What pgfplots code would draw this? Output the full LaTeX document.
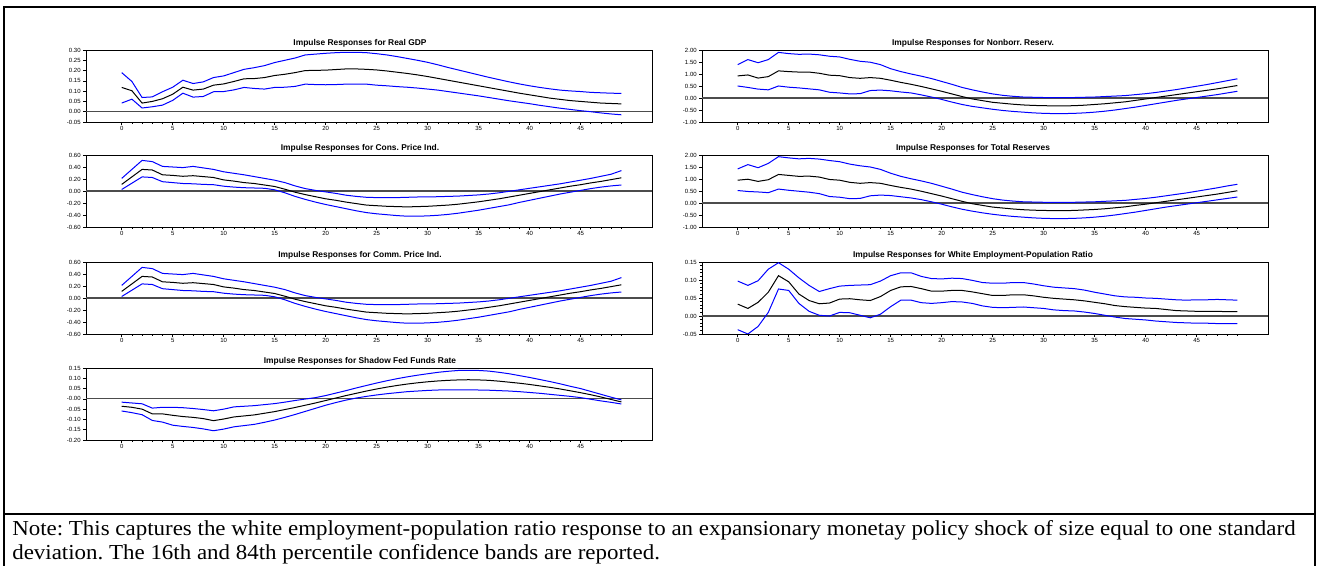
\documentclass[border=0pt]{standalone}
\usepackage{fontspec}
\setmainfont{Liberation Serif}
\newfontfamily\arial{Liberation Sans}
\usepackage{pgfplots}
\usepackage{pgfplotstable}
\pgfplotsset{compat=1.18}

% columns: horizon, response, 16th pct, 84th pct
\pgfplotstableread{
x resp lo hi
0 0.118 0.042 0.190
1 0.102 0.061 0.147
2 0.042 0.018 0.069
3 0.050 0.024 0.072
4 0.063 0.032 0.097
5 0.085 0.055 0.119
6 0.119 0.090 0.153
7 0.105 0.071 0.137
8 0.110 0.074 0.145
9 0.129 0.097 0.166
10 0.135 0.098 0.174
11 0.147 0.106 0.190
12 0.160 0.118 0.206
13 0.161 0.113 0.214
14 0.166 0.110 0.224
15 0.176 0.118 0.239
16 0.182 0.119 0.250
17 0.190 0.123 0.261
18 0.200 0.134 0.276
19 0.201 0.132 0.280
20 0.202 0.131 0.284
21 0.205 0.132 0.287
22 0.208 0.134 0.289
23 0.208 0.134 0.289
24 0.206 0.134 0.287
25 0.203 0.129 0.282
26 0.198 0.126 0.276
27 0.192 0.122 0.268
28 0.186 0.119 0.259
29 0.179 0.115 0.250
30 0.171 0.110 0.240
31 0.162 0.105 0.228
32 0.153 0.098 0.215
33 0.144 0.091 0.203
34 0.135 0.084 0.191
35 0.126 0.077 0.179
36 0.117 0.069 0.167
37 0.108 0.061 0.156
38 0.099 0.053 0.145
39 0.090 0.046 0.135
40 0.082 0.039 0.126
41 0.074 0.031 0.118
42 0.066 0.024 0.111
43 0.060 0.017 0.105
44 0.054 0.011 0.101
45 0.050 0.005 0.098
46 0.046 0.000 0.094
47 0.042 -0.006 0.092
48 0.040 -0.011 0.090
49 0.038 -0.015 0.089
}\gdp

\pgfplotstableread{
x resp lo hi
0 0.92 0.50 1.39
1 0.96 0.44 1.60
2 0.83 0.37 1.47
3 0.89 0.34 1.60
4 1.13 0.50 1.90
5 1.10 0.45 1.85
6 1.08 0.42 1.82
7 1.08 0.38 1.83
8 1.03 0.34 1.80
9 0.95 0.24 1.74
10 0.93 0.21 1.71
11 0.85 0.17 1.61
12 0.82 0.18 1.53
13 0.85 0.31 1.49
14 0.82 0.33 1.39
15 0.74 0.30 1.22
16 0.65 0.25 1.10
17 0.57 0.21 1.00
18 0.48 0.13 0.91
19 0.38 0.04 0.81
20 0.28 -0.06 0.69
21 0.17 -0.17 0.57
22 0.06 -0.27 0.44
23 -0.04 -0.35 0.34
24 -0.11 -0.41 0.25
25 -0.18 -0.47 0.17
26 -0.22 -0.52 0.11
27 -0.26 -0.56 0.07
28 -0.29 -0.59 0.04
29 -0.31 -0.62 0.03
30 -0.32 -0.64 0.02
31 -0.33 -0.65 0.02
32 -0.33 -0.65 0.02
33 -0.32 -0.64 0.02
34 -0.30 -0.62 0.03
35 -0.27 -0.59 0.04
36 -0.24 -0.55 0.06
37 -0.20 -0.50 0.08
38 -0.16 -0.44 0.10
39 -0.10 -0.38 0.14
40 -0.04 -0.31 0.18
41 0.02 -0.24 0.23
42 0.08 -0.17 0.29
43 0.14 -0.10 0.35
44 0.20 -0.04 0.42
45 0.26 0.02 0.49
46 0.32 0.08 0.56
47 0.38 0.14 0.64
48 0.45 0.21 0.72
49 0.52 0.28 0.80
}\nonborr

\pgfplotstableread{
x resp lo hi
0 0.11 0.025 0.21
1 0.235 0.13 0.36
2 0.36 0.235 0.51
3 0.35 0.225 0.49
4 0.27 0.155 0.41
5 0.26 0.14 0.40
6 0.245 0.125 0.39
7 0.255 0.12 0.41
8 0.24 0.11 0.385
9 0.225 0.105 0.36
10 0.185 0.08 0.32
11 0.165 0.065 0.295
12 0.14 0.055 0.27
13 0.125 0.05 0.24
14 0.10 0.045 0.21
15 0.075 0.02 0.18
16 0.03 -0.03 0.14
17 -0.02 -0.09 0.085
18 -0.06 -0.14 0.04
19 -0.095 -0.185 0.01
20 -0.13 -0.225 -0.015
21 -0.155 -0.26 -0.04
22 -0.185 -0.295 -0.07
23 -0.21 -0.33 -0.09
24 -0.235 -0.36 -0.105
25 -0.245 -0.38 -0.11
26 -0.255 -0.395 -0.11
27 -0.26 -0.41 -0.11
28 -0.265 -0.42 -0.105
29 -0.26 -0.42 -0.10
30 -0.255 -0.415 -0.10
31 -0.245 -0.405 -0.095
32 -0.235 -0.39 -0.09
33 -0.22 -0.37 -0.085
34 -0.20 -0.345 -0.075
35 -0.18 -0.32 -0.065
36 -0.155 -0.29 -0.05
37 -0.13 -0.26 -0.03
38 -0.10 -0.23 -0.005
39 -0.07 -0.19 0.02
40 -0.04 -0.155 0.045
41 -0.01 -0.12 0.07
42 0.02 -0.085 0.095
43 0.05 -0.05 0.12
44 0.08 -0.02 0.15
45 0.105 0.01 0.18
46 0.135 0.04 0.21
47 0.16 0.065 0.245
48 0.19 0.085 0.28
49 0.22 0.10 0.34
}\cpi

\pgfplotstableread{
x resp lo hi
0 0.95 0.52 1.42
1 0.99 0.48 1.60
2 0.90 0.46 1.47
3 0.97 0.43 1.65
4 1.19 0.58 1.93
5 1.15 0.53 1.88
6 1.11 0.49 1.84
7 1.12 0.45 1.86
8 1.08 0.39 1.83
9 0.98 0.27 1.77
10 0.95 0.24 1.72
11 0.86 0.18 1.62
12 0.82 0.19 1.55
13 0.85 0.30 1.50
14 0.82 0.33 1.40
15 0.73 0.31 1.24
16 0.65 0.26 1.11
17 0.58 0.21 1.01
18 0.49 0.14 0.92
19 0.39 0.05 0.82
20 0.29 -0.05 0.70
21 0.18 -0.16 0.58
22 0.07 -0.26 0.45
23 -0.03 -0.34 0.35
24 -0.10 -0.41 0.26
25 -0.17 -0.47 0.18
26 -0.21 -0.52 0.12
27 -0.25 -0.56 0.08
28 -0.28 -0.59 0.05
29 -0.30 -0.62 0.04
30 -0.31 -0.64 0.03
31 -0.32 -0.65 0.03
32 -0.32 -0.65 0.03
33 -0.31 -0.64 0.03
34 -0.29 -0.62 0.04
35 -0.27 -0.59 0.05
36 -0.24 -0.55 0.07
37 -0.20 -0.50 0.09
38 -0.16 -0.44 0.11
39 -0.10 -0.38 0.15
40 -0.05 -0.31 0.19
41 0.01 -0.24 0.24
42 0.07 -0.17 0.30
43 0.13 -0.11 0.36
44 0.19 -0.05 0.42
45 0.25 0.01 0.49
46 0.31 0.07 0.56
47 0.37 0.13 0.63
48 0.44 0.19 0.71
49 0.51 0.25 0.78
}\totres

\pgfplotstableread{
x resp lo hi
0 0.033 -0.038 0.097
1 0.021 -0.050 0.085
2 0.038 -0.029 0.098
3 0.066 0.010 0.130
4 0.112 0.075 0.148
5 0.095 0.071 0.130
6 0.061 0.035 0.106
7 0.043 0.013 0.085
8 0.034 0.002 0.068
9 0.036 0.000 0.076
10 0.047 0.010 0.083
11 0.048 0.009 0.085
12 0.045 0.002 0.086
13 0.043 -0.005 0.087
14 0.054 0.005 0.097
15 0.071 0.026 0.112
16 0.081 0.044 0.120
17 0.082 0.044 0.120
18 0.076 0.037 0.110
19 0.069 0.035 0.104
20 0.069 0.037 0.103
21 0.071 0.040 0.105
22 0.071 0.039 0.104
23 0.067 0.035 0.099
24 0.062 0.028 0.093
25 0.057 0.024 0.091
26 0.057 0.023 0.091
27 0.059 0.024 0.093
28 0.059 0.025 0.093
29 0.056 0.023 0.089
30 0.052 0.021 0.084
31 0.049 0.017 0.080
32 0.047 0.015 0.078
33 0.045 0.014 0.076
34 0.042 0.011 0.072
35 0.038 0.007 0.066
36 0.034 0.002 0.061
37 0.029 -0.003 0.056
38 0.026 -0.007 0.053
39 0.024 -0.009 0.052
40 0.022 -0.011 0.050
41 0.021 -0.014 0.049
42 0.018 -0.016 0.047
43 0.015 -0.018 0.045
44 0.014 -0.019 0.044
45 0.013 -0.020 0.045
46 0.013 -0.020 0.045
47 0.013 -0.021 0.046
48 0.012 -0.021 0.045
49 0.012 -0.021 0.044
}\white

\pgfplotstableread{
x resp lo hi
0 -0.036 -0.059 -0.016
1 -0.041 -0.067 -0.020
2 -0.050 -0.077 -0.024
3 -0.073 -0.105 -0.045
4 -0.073 -0.113 -0.041
5 -0.080 -0.128 -0.041
6 -0.086 -0.134 -0.043
7 -0.090 -0.139 -0.047
8 -0.096 -0.146 -0.052
9 -0.106 -0.155 -0.058
10 -0.098 -0.147 -0.050
11 -0.088 -0.136 -0.039
12 -0.083 -0.130 -0.036
13 -0.078 -0.124 -0.033
14 -0.070 -0.114 -0.028
15 -0.062 -0.103 -0.023
16 -0.052 -0.090 -0.016
17 -0.042 -0.076 -0.008
18 -0.031 -0.061 -0.001
19 -0.020 -0.046 0.006
20 -0.008 -0.031 0.016
21 0.004 -0.018 0.028
22 0.016 -0.006 0.040
23 0.027 0.004 0.053
24 0.038 0.012 0.065
25 0.048 0.019 0.077
26 0.057 0.025 0.088
27 0.065 0.030 0.098
28 0.072 0.035 0.107
29 0.078 0.038 0.115
30 0.083 0.041 0.122
31 0.087 0.043 0.129
32 0.090 0.044 0.134
33 0.092 0.044 0.138
34 0.093 0.044 0.139
35 0.092 0.043 0.138
36 0.090 0.042 0.135
37 0.086 0.040 0.129
38 0.081 0.038 0.122
39 0.076 0.035 0.113
40 0.070 0.031 0.104
41 0.063 0.027 0.094
42 0.056 0.022 0.084
43 0.048 0.017 0.073
44 0.039 0.012 0.061
45 0.030 0.006 0.050
46 0.020 -0.002 0.036
47 0.009 -0.010 0.022
48 -0.003 -0.017 0.008
49 -0.015 -0.025 -0.005
}\shadow

\pgfplotsset{
  irf/.style={
    scale only axis, width=424.5pt, height=54pt,
    anchor=north west,
    xmin=-3.5, xmax=52,
    xtick={0,5,...,45}, minor xtick={1,...,49},
    xtick pos=bottom, ytick pos=left,
    tick align=outside,
    major tick length=2pt, minor tick length=1.3pt,
    every tick/.style={black, line width=0.5pt},
    axis line style={line width=0.6pt},
    /pgf/number format/assume math mode=true,
    tick label style={font=\arial\fontsize{4.5}{5}\selectfont},
    xticklabel style={inner sep=1.2pt},
    yticklabel style={inner sep=1.8pt,
      /pgf/number format/fixed, /pgf/number format/fixed zerofill,
      /pgf/number format/precision=2},
    every axis title/.style={font=\arial\bfseries\fontsize{6.3}{7}\selectfont,
      at={(0.5,1)}, anchor=base, yshift=3.2pt, inner sep=0pt},
    every axis plot/.append style={line width=0.75pt, no marks},
  },
}
\newcommand{\zeroline}{\draw[black!70, line width=0.9pt]
  ({rel axis cs:0,0}|-{axis cs:0,0}) -- ({rel axis cs:1,0}|-{axis cs:0,0});}
\newcommand{\bands}[1]{%
  \addplot[blue] table[x=x,y=hi] {#1};
  \addplot[blue] table[x=x,y=lo] {#1};
  \addplot[black] table[x=x,y=resp] {#1};}

\begin{document}
\frenchspacing
\begin{tikzpicture}
\useasboundingbox (0,0) rectangle (1317*0.75pt,-566*0.75pt);

% left column
\begin{axis}[irf, at={(86*0.75pt,-50*0.75pt)},
  title={Impulse Responses for Real GDP}, title style={xshift=-6.75pt},
  ymin=-0.05, ymax=0.30, ytick={-0.05,0,0.05,0.1,0.15,0.2,0.25,0.3}]
\zeroline
\bands{\gdp}
\end{axis}

\begin{axis}[irf, at={(86*0.75pt,-155*0.75pt)},
  title={Impulse Responses for Cons. Price Ind.}, title style={xshift=-6.75pt},
  ymin=-0.6, ymax=0.6, ytick={-0.6,-0.4,-0.2,0,0.2,0.4,0.6}]
\zeroline
\bands{\cpi}
\end{axis}

\begin{axis}[irf, at={(86*0.75pt,-262*0.75pt)},
  title={Impulse Responses for Comm. Price Ind.}, title style={xshift=-6.75pt},
  ymin=-0.6, ymax=0.6, ytick={-0.6,-0.4,-0.2,0,0.2,0.4,0.6}]
\zeroline
\bands{\cpi}
\end{axis}

\begin{axis}[irf, at={(86*0.75pt,-368*0.75pt)},
  title={Impulse Responses for Shadow Fed Funds Rate}, title style={xshift=-6.75pt},
  ymin=-0.20, ymax=0.15, ytick={-0.2,-0.15,-0.1,-0.05,0,0.05,0.1,0.15},
  yticklabels={-0.20,-0.15,-0.10,-0.05,-0.00,0.05,0.10,0.15}]
\zeroline
\bands{\shadow}
\end{axis}

% right column
\begin{axis}[irf, at={(702*0.75pt,-50*0.75pt)},
  title={Impulse Responses for Nonborr. Reserv.}, title style={xshift=-9pt},
  ymin=-1, ymax=2, ytick={-1,-0.5,0,0.5,1,1.5,2}]
\zeroline
\bands{\nonborr}
\end{axis}

\begin{axis}[irf, at={(702*0.75pt,-155*0.75pt)},
  title={Impulse Responses for Total Reserves}, title style={xshift=-9pt},
  ymin=-1, ymax=2, ytick={-1,-0.5,0,0.5,1,1.5,2}]
\zeroline
\bands{\totres}
\end{axis}

\begin{axis}[irf, at={(702*0.75pt,-262*0.75pt)},
  title={Impulse Responses for White Employment-Population Ratio}, title style={xshift=-9pt},
  ymin=-0.05, ymax=0.15, ytick={-0.05,0,0.05,0.1,0.15}, minor y tick num=4]
\zeroline
\bands{\white}
\end{axis}

% frame and note
\draw[line width=1.5pt] (4*0.75pt,-566*0.75pt) -- (4*0.75pt,-7*0.75pt)
  -- (1315*0.75pt,-7*0.75pt) -- (1315*0.75pt,-566*0.75pt);
\draw[line width=1.5pt] (3*0.75pt,-514*0.75pt) -- (1316*0.75pt,-514*0.75pt);
\node[anchor=base west, inner sep=0pt, xscale=1.075, font=\fontsize{16}{18}\selectfont]
  at (12*0.75pt,-535*0.75pt) {Note: This captures the white employment-population ratio response to an expansionary monetay policy shock of size equal to one standard};
\node[anchor=base west, inner sep=0pt, xscale=1.075, font=\fontsize{16}{18}\selectfont]
  at (12*0.75pt,-559*0.75pt) {deviation. The 16th and 84th percentile confidence bands are reported.};
\end{tikzpicture}
\end{document}
